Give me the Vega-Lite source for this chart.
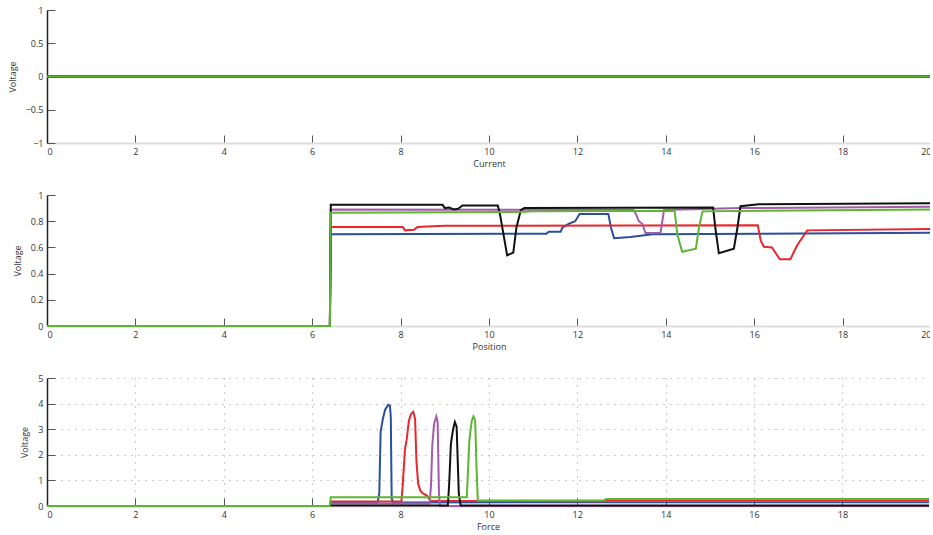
{
  "$schema": "https://vega.github.io/schema/vega-lite/v6.json",
  "background": "white",
  "padding": {"left": 8, "top": 6, "right": -5, "bottom": 0},
  "spacing": 52,
  "bounds": "flush",
  "config": {
    "view": {"stroke": null},
    "font": "Open Sans",
    "axis": {
      "labelFont": "Open Sans", "labelFontSize": 9, "labelColor": "#333",
      "titleFont": "Open Sans", "titleFontSize": 9, "titleFontWeight": "normal", "titleColor": "#333",
      "tickSize": -8, "tickColor": "#555", "tickWidth": 1, "grid": false,
      "labelPadding": 12
    },
    "axisY": {"domainColor": "#222", "domainWidth": 1.5, "titlePadding": 8},
    "axisX": {"domainColor": "#ddd", "domainWidth": 2, "titlePadding": 3, "labelPadding": 12}
  },
  "datasets": {
    "top": [
      {"x": 0, "y": 0, "s": "s1"}, {"x": 20, "y": 0, "s": "s1"},
      {"x": 0, "y": 0, "s": "s2"}, {"x": 20, "y": 0, "s": "s2"},
      {"x": 0, "y": 0, "s": "s3"}, {"x": 20, "y": 0, "s": "s3"},
      {"x": 0, "y": 0, "s": "s4"}, {"x": 20, "y": 0, "s": "s4"},
      {"x": 0, "y": 0, "s": "s5"}, {"x": 20, "y": 0, "s": "s5"}
    ],
    "mid": [
      {"x": 0, "y": 0, "s": "s1"}, {"x": 6.4, "y": 0, "s": "s1"}, {"x": 6.42, "y": 0.7, "s": "s1"}, {"x": 11.3, "y": 0.705, "s": "s1"}, {"x": 11.35, "y": 0.72, "s": "s1"}, {"x": 11.62, "y": 0.72, "s": "s1"}, {"x": 11.66, "y": 0.75, "s": "s1"}, {"x": 11.8, "y": 0.78, "s": "s1"}, {"x": 11.95, "y": 0.8, "s": "s1"}, {"x": 12.05, "y": 0.855, "s": "s1"}, {"x": 12.7, "y": 0.855, "s": "s1"}, {"x": 12.76, "y": 0.75, "s": "s1"}, {"x": 12.83, "y": 0.67, "s": "s1"}, {"x": 13.2, "y": 0.68, "s": "s1"}, {"x": 13.7, "y": 0.7, "s": "s1"}, {"x": 20, "y": 0.712, "s": "s1"},
      {"x": 0, "y": 0, "s": "s2"}, {"x": 6.4, "y": 0, "s": "s2"}, {"x": 6.42, "y": 0.755, "s": "s2"}, {"x": 8.05, "y": 0.755, "s": "s2"}, {"x": 8.1, "y": 0.73, "s": "s2"}, {"x": 8.3, "y": 0.735, "s": "s2"}, {"x": 8.38, "y": 0.755, "s": "s2"}, {"x": 8.6, "y": 0.76, "s": "s2"}, {"x": 9, "y": 0.765, "s": "s2"}, {"x": 16.08, "y": 0.77, "s": "s2"}, {"x": 16.15, "y": 0.65, "s": "s2"}, {"x": 16.22, "y": 0.605, "s": "s2"}, {"x": 16.4, "y": 0.6, "s": "s2"}, {"x": 16.5, "y": 0.55, "s": "s2"}, {"x": 16.58, "y": 0.51, "s": "s2"}, {"x": 16.82, "y": 0.51, "s": "s2"}, {"x": 16.92, "y": 0.58, "s": "s2"}, {"x": 16.98, "y": 0.62, "s": "s2"}, {"x": 17.08, "y": 0.67, "s": "s2"}, {"x": 17.2, "y": 0.73, "s": "s2"}, {"x": 20, "y": 0.74, "s": "s2"},
      {"x": 0, "y": 0, "s": "s3"}, {"x": 6.4, "y": 0, "s": "s3"}, {"x": 6.42, "y": 0.89, "s": "s3"}, {"x": 13.27, "y": 0.885, "s": "s3"}, {"x": 13.33, "y": 0.85, "s": "s3"}, {"x": 13.39, "y": 0.8, "s": "s3"}, {"x": 13.47, "y": 0.78, "s": "s3"}, {"x": 13.54, "y": 0.71, "s": "s3"}, {"x": 13.88, "y": 0.71, "s": "s3"}, {"x": 13.96, "y": 0.885, "s": "s3"}, {"x": 15.7, "y": 0.9, "s": "s3"}, {"x": 20, "y": 0.91, "s": "s3"},
      {"x": 0, "y": 0, "s": "s4"}, {"x": 6.4, "y": 0, "s": "s4"}, {"x": 6.42, "y": 0.925, "s": "s4"}, {"x": 8.95, "y": 0.925, "s": "s4"}, {"x": 9.0, "y": 0.9, "s": "s4"}, {"x": 9.1, "y": 0.905, "s": "s4"}, {"x": 9.2, "y": 0.89, "s": "s4"}, {"x": 9.3, "y": 0.895, "s": "s4"}, {"x": 9.4, "y": 0.92, "s": "s4"}, {"x": 10.2, "y": 0.92, "s": "s4"}, {"x": 10.25, "y": 0.85, "s": "s4"}, {"x": 10.41, "y": 0.54, "s": "s4"}, {"x": 10.55, "y": 0.56, "s": "s4"}, {"x": 10.62, "y": 0.75, "s": "s4"}, {"x": 10.72, "y": 0.885, "s": "s4"}, {"x": 10.8, "y": 0.9, "s": "s4"}, {"x": 15.07, "y": 0.905, "s": "s4"}, {"x": 15.12, "y": 0.75, "s": "s4"}, {"x": 15.2, "y": 0.555, "s": "s4"}, {"x": 15.54, "y": 0.59, "s": "s4"}, {"x": 15.62, "y": 0.75, "s": "s4"}, {"x": 15.69, "y": 0.915, "s": "s4"}, {"x": 16.1, "y": 0.93, "s": "s4"}, {"x": 20, "y": 0.937, "s": "s4"},
      {"x": 0, "y": 0, "s": "s5"}, {"x": 6.4, "y": 0, "s": "s5"}, {"x": 6.42, "y": 0.865, "s": "s5"}, {"x": 10.7, "y": 0.87, "s": "s5"}, {"x": 11, "y": 0.875, "s": "s5"}, {"x": 14.2, "y": 0.88, "s": "s5"}, {"x": 14.26, "y": 0.7, "s": "s5"}, {"x": 14.37, "y": 0.567, "s": "s5"}, {"x": 14.68, "y": 0.59, "s": "s5"}, {"x": 14.75, "y": 0.75, "s": "s5"}, {"x": 14.83, "y": 0.875, "s": "s5"}, {"x": 20, "y": 0.89, "s": "s5"}
    ],
    "bot": [
      {"x": 0, "y": 0, "s": "s1"}, {"x": 6.4, "y": 0, "s": "s1"}, {"x": 6.42, "y": 0.12, "s": "s1"}, {"x": 7.48, "y": 0.13, "s": "s1"}, {"x": 7.52, "y": 0.5, "s": "s1"}, {"x": 7.55, "y": 2.9, "s": "s1"}, {"x": 7.6, "y": 3.4, "s": "s1"}, {"x": 7.65, "y": 3.75, "s": "s1"}, {"x": 7.72, "y": 3.95, "s": "s1"}, {"x": 7.76, "y": 3.92, "s": "s1"}, {"x": 7.78, "y": 3.5, "s": "s1"}, {"x": 7.8, "y": 0.3, "s": "s1"}, {"x": 7.83, "y": 0.14, "s": "s1"}, {"x": 19.96, "y": 0.15, "s": "s1"},
      {"x": 0, "y": 0, "s": "s2"}, {"x": 6.4, "y": 0, "s": "s2"}, {"x": 6.42, "y": 0.18, "s": "s2"}, {"x": 8.02, "y": 0.18, "s": "s2"}, {"x": 8.05, "y": 0.8, "s": "s2"}, {"x": 8.1, "y": 2.2, "s": "s2"}, {"x": 8.14, "y": 2.6, "s": "s2"}, {"x": 8.19, "y": 3.33, "s": "s2"}, {"x": 8.24, "y": 3.6, "s": "s2"}, {"x": 8.29, "y": 3.68, "s": "s2"}, {"x": 8.33, "y": 3.4, "s": "s2"}, {"x": 8.36, "y": 1.77, "s": "s2"}, {"x": 8.4, "y": 0.86, "s": "s2"}, {"x": 8.45, "y": 0.6, "s": "s2"}, {"x": 8.5, "y": 0.5, "s": "s2"}, {"x": 8.6, "y": 0.4, "s": "s2"}, {"x": 8.68, "y": 0.2, "s": "s2"}, {"x": 12.6, "y": 0.19, "s": "s2"}, {"x": 12.65, "y": 0.23, "s": "s2"}, {"x": 19.96, "y": 0.23, "s": "s2"},
      {"x": 0, "y": 0, "s": "s3"}, {"x": 6.4, "y": 0, "s": "s3"}, {"x": 6.42, "y": 0.1, "s": "s3"}, {"x": 8.66, "y": 0.1, "s": "s3"}, {"x": 8.69, "y": 0.8, "s": "s3"}, {"x": 8.72, "y": 2.4, "s": "s3"}, {"x": 8.76, "y": 3.2, "s": "s3"}, {"x": 8.81, "y": 3.5, "s": "s3"}, {"x": 8.84, "y": 3.3, "s": "s3"}, {"x": 8.87, "y": 0.5, "s": "s3"}, {"x": 8.89, "y": 0, "s": "s3"}, {"x": 19.96, "y": 0, "s": "s3"},
      {"x": 0, "y": 0, "s": "s4"}, {"x": 6.4, "y": 0, "s": "s4"}, {"x": 6.42, "y": 0.02, "s": "s4"}, {"x": 9.07, "y": 0.02, "s": "s4"}, {"x": 9.1, "y": 0.8, "s": "s4"}, {"x": 9.14, "y": 2.42, "s": "s4"}, {"x": 9.19, "y": 3.0, "s": "s4"}, {"x": 9.23, "y": 3.28, "s": "s4"}, {"x": 9.27, "y": 3.1, "s": "s4"}, {"x": 9.3, "y": 1.5, "s": "s4"}, {"x": 9.32, "y": 0.47, "s": "s4"}, {"x": 9.36, "y": 0.02, "s": "s4"}, {"x": 19.96, "y": 0.02, "s": "s4"},
      {"x": 0, "y": 0, "s": "s5"}, {"x": 6.4, "y": 0, "s": "s5"}, {"x": 6.42, "y": 0.34, "s": "s5"}, {"x": 9.5, "y": 0.34, "s": "s5"}, {"x": 9.53, "y": 1.5, "s": "s5"}, {"x": 9.56, "y": 2.6, "s": "s5"}, {"x": 9.61, "y": 3.3, "s": "s5"}, {"x": 9.65, "y": 3.5, "s": "s5"}, {"x": 9.69, "y": 3.35, "s": "s5"}, {"x": 9.72, "y": 1.5, "s": "s5"}, {"x": 9.75, "y": 0.21, "s": "s5"}, {"x": 12.6, "y": 0.21, "s": "s5"}, {"x": 12.65, "y": 0.27, "s": "s5"}, {"x": 19.96, "y": 0.27, "s": "s5"}
    ]
  },
  "vconcat": [
    {
      "width": 884, "height": 133,
      "data": {"name": "top"},
      "mark": {"type": "line", "strokeWidth": 2},
      "encoding": {
        "x": {"field": "x", "type": "quantitative", "scale": {"domain": [0, 20], "nice": false}, "axis": {"title": "Current", "values": [0,2,4,6,8,10,12,14,16,18,20], "format": "~g"}},
        "y": {"field": "y", "type": "quantitative", "scale": {"domain": [-1, 1], "nice": false}, "axis": {"title": "Voltage", "values": [-1,-0.5,0,0.5,1], "format": "~g"}},
        "color": {"field": "s", "type": "nominal", "legend": null, "scale": {"domain": ["s1","s2","s3","s4","s5"], "range": ["#2b4f9e","#e8262b","#a45ba9","#111111","#5db532"]}},
        "order": {"field": "x", "type": "quantitative"}
      }
    },
    {
      "width": 884, "height": 131,
      "data": {"name": "mid"},
      "mark": {"type": "line", "strokeWidth": 2},
      "encoding": {
        "x": {"field": "x", "type": "quantitative", "scale": {"domain": [0, 20], "nice": false}, "axis": {"title": "Position", "values": [0,2,4,6,8,10,12,14,16,18,20], "format": "~g"}},
        "y": {"field": "y", "type": "quantitative", "scale": {"domain": [0, 1], "nice": false}, "axis": {"title": "Voltage", "values": [0,0.2,0.4,0.6,0.8,1], "format": "~g"}},
        "color": {"field": "s", "type": "nominal", "legend": null, "scale": {"domain": ["s1","s2","s3","s4","s5"], "range": ["#2b4f9e","#e8262b","#a45ba9","#111111","#5db532"]}},
        "order": {"field": "x", "type": "quantitative"}
      }
    },
    {
      "width": 882, "height": 128,
      "data": {"name": "bot"},
      "mark": {"type": "line", "strokeWidth": 2},
      "encoding": {
        "x": {"field": "x", "type": "quantitative", "scale": {"domain": [0, 19.96], "nice": false}, "axis": {"title": "Force", "values": [0,2,4,6,8,10,12,14,16,18], "format": "~g", "grid": true, "gridDash": [1, 6], "gridColor": "#999", "gridWidth": 1}},
        "y": {"field": "y", "type": "quantitative", "scale": {"domain": [0, 5], "nice": false}, "axis": {"title": "Voltage", "values": [0,1,2,3,4,5], "format": "~g", "grid": true, "gridDash": [1, 6], "gridColor": "#999", "gridWidth": 1}},
        "color": {"field": "s", "type": "nominal", "legend": null, "scale": {"domain": ["s1","s2","s3","s4","s5"], "range": ["#2b4f9e","#e8262b","#a45ba9","#111111","#5db532"]}},
        "order": {"field": "x", "type": "quantitative"}
      }
    }
  ]
}
